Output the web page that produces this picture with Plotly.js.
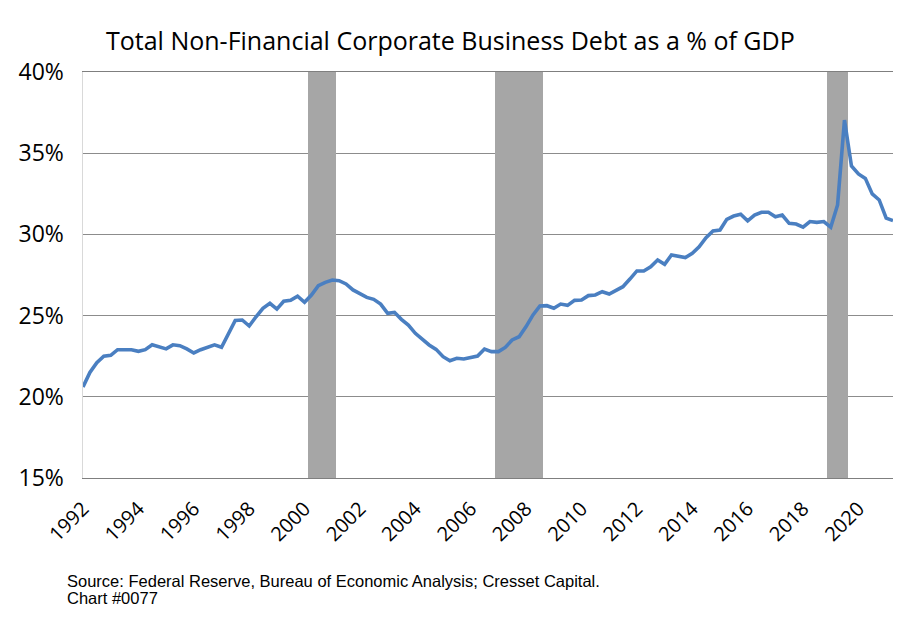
<!DOCTYPE html>
<html>
<head>
<meta charset="utf-8">
<script src="https://cdn.plot.ly/plotly-3.0.1.min.js"></script>
<style>html,body{margin:0;padding:0;background:#fff;}#chart{width:924px;height:628px;}</style>
</head>
<body>
<div id="chart"></div>
<script>
// Quarterly series, first quarter shown on the chart's axis: 1992 Q1
const startYear = 1992;
const debtPctGDP = [
  20.6, 21.5, 22.1, 22.5, 22.55, 22.9, 22.9, 22.9, 22.8, 22.9,
  23.2, 23.1, 22.95, 23.2, 23.15, 22.95, 22.7, 22.9, 23.05, 23.2,
  23.05, 23.87, 24.7, 24.73, 24.36, 24.93, 25.45, 25.76, 25.4, 25.88,
  25.94, 26.2, 25.82, 26.27, 26.84, 27.05, 27.19, 27.15, 26.95, 26.58,
  26.33, 26.12, 26.0, 25.71, 25.14, 25.2, 24.77, 24.42, 23.91, 23.56,
  23.19, 22.92, 22.47, 22.22, 22.37, 22.33, 22.41, 22.51, 22.94, 22.78,
  22.78, 23.04, 23.5, 23.7, 24.32, 25.04, 25.59, 25.61, 25.45, 25.71,
  25.63, 25.94, 25.96, 26.23, 26.27, 26.47, 26.33, 26.53, 26.78, 27.25,
  27.75, 27.75, 28.01, 28.42, 28.16, 28.73, 28.67, 28.57, 28.84, 29.24,
  29.8, 30.21, 30.27, 30.93, 31.13, 31.24, 30.83, 31.19, 31.36, 31.36,
  31.09, 31.19, 30.68, 30.64, 30.44, 30.79, 30.74, 30.79, 30.44, 31.81,
  37.04, 34.21, 33.72, 33.45, 32.49, 32.12, 31.0, 30.85
];
// Shaded (recession) quarters as positioned on the chart
const recessionQuarters = [
  '2000-04-01', '2000-07-01', '2000-10-01', '2001-01-01',
  '2007-01-01', '2007-04-01', '2007-07-01', '2007-10-01', '2008-01-01', '2008-04-01', '2008-07-01',
  '2019-01-01', '2019-04-01', '2019-07-01'
];
const recessionTop = 40;
const yTickVals = [15, 20, 25, 30, 35, 40];
const yTickText = ['15%', '20%', '25%', '30%', '35%', '40%'];

const titleText = 'Total Non-Financial Corporate Business Debt as a % of GDP';
const sourceText = 'Source: Federal Reserve, Bureau of Economic Analysis; Cresset Capital.';
const chartIdText = 'Chart #0077';

function quarterDates(y0, n) {
  const out = [];
  for (let i = 0; i < n; i++) {
    const y = y0 + Math.floor(i / 4);
    const m = (i % 4) * 3 + 1;
    out.push(y + '-' + String(m).padStart(2, '0') + '-01');
  }
  return out;
}
const quarters = quarterDates(startYear, debtPctGDP.length);
const quarterMs = 91.3 * 24 * 3600 * 1000;

const mainFont = '"Open Sans", Lato, sans-serif';

const recessionTrace = {
  type: 'bar',
  x: recessionQuarters,
  y: recessionQuarters.map(() => recessionTop),
  width: recessionQuarters.map(() => quarterMs),
  marker: {color: '#a6a6a6', line: {width: 0}},
  hoverinfo: 'skip',
  showlegend: false
};
const lineTrace = {
  type: 'scatter',
  mode: 'lines',
  x: quarters,
  y: debtPctGDP,
  line: {color: '#4a7fc1', width: 3.6},
  showlegend: false
};

const plotL = 83, plotR = 31, plotT = 72, plotB = 150;
const plotW = 924 - plotL - plotR, plotH = 628 - plotT - plotB;

const layout = {
  width: 924, height: 628,
  margin: {l: plotL, r: plotR, t: plotT, b: plotB},
  paper_bgcolor: '#fff', plot_bgcolor: '#fff',
  font: {family: mainFont, color: '#000'},
  bargap: 0,
  title: {
    text: titleText,
    font: {family: mainFont, size: 25, color: '#000'},
    x: 106 / 924, xanchor: 'left', xref: 'container',
    y: 1 - 41 / 628, yanchor: 'middle', yref: 'container'
  },
  xaxis: {
    type: 'date',
    range: [quarters[0], quarters[quarters.length - 1]],
    tick0: quarters[0], dtick: 'M24', tickformat: '%Y',
    tickangle: -45,
    tickfont: {family: mainFont, size: 20, color: '#000'},
    ticks: 'outside', ticklen: 10, tickcolor: 'rgba(0,0,0,0)',
    showgrid: false, zeroline: false,
    showline: true, linecolor: '#7f7f7f', linewidth: 1.2, mirror: true
  },
  yaxis: {
    range: [15, 40],
    tickvals: yTickVals, ticktext: yTickText,
    tickfont: {family: mainFont, size: 23, color: '#000'},
    ticks: 'outside', ticklen: 13, tickcolor: 'rgba(0,0,0,0)',
    showgrid: true, gridcolor: '#8c8c8c', gridwidth: 1,
    zeroline: false,
    showline: true, linecolor: '#d9d9d9', linewidth: 1.5
  },
  yaxis2: {
    overlaying: 'y', side: 'right',
    range: [0, 8], dtick: 1, tick0: 0,
    showticklabels: false,
    ticks: 'outside', ticklen: 5, tickcolor: '#8c8c8c',
    showgrid: false, zeroline: false,
    showline: true, linecolor: '#8c8c8c', linewidth: 1.2
  },
  annotations: [
    {text: sourceText, xref: 'paper', yref: 'paper', showarrow: false,
     x: (65 - plotL) / plotW, y: (628 - plotB - 580.5) / plotH,
     xanchor: 'left', yanchor: 'middle',
     font: {family: '"Liberation Sans", Arial, sans-serif', size: 16.5, color: '#000'}},
    {text: chartIdText, xref: 'paper', yref: 'paper', showarrow: false,
     x: (65 - plotL) / plotW, y: (628 - plotB - 597.5) / plotH,
     xanchor: 'left', yanchor: 'middle',
     font: {family: '"Liberation Sans", Arial, sans-serif', size: 16.5, color: '#000'}}
  ]
};

Plotly.newPlot('chart', [recessionTrace, lineTrace], layout, {displayModeBar: false, staticPlot: true});
</script>
</body>
</html>
